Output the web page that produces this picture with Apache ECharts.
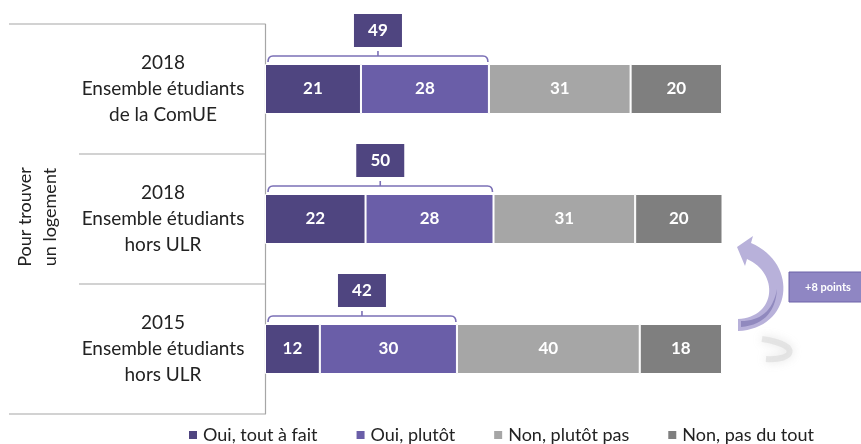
<!DOCTYPE html>
<html>
<head>
<meta charset="utf-8">
<script src="https://cdn.jsdelivr.net/npm/echarts@6/dist/echarts.min.js"></script>
<style>
  html, body { margin: 0; padding: 0; background: #fff; }
  #chart { width: 861px; height: 444px; }
</style>
</head>
<body>
<div id="chart"></div>
<script>
// catégories, de haut en bas
const categories = [
  '2018\nEnsemble étudiants\nde la ComUE',
  '2018\nEnsemble étudiants\nhors ULR',
  '2015\nEnsemble étudiants\nhors ULR'
]
const seriesNames = ['Oui, tout à fait', 'Oui, plutôt', 'Non, plutôt pas', 'Non, pas du tout']
const ouiToutAFait = [21, 22, 12]
const ouiPlutot = [28, 28, 30]
const nonPlutotPas = [31, 31, 40]
const nonPasDuTout = [20, 20, 18]
// total "oui" affiché au-dessus des accolades
const ouiTotal = [49, 50, 42]
const evolutionLabel = '+8 points'
const sideLabel = 'Pour trouver\nun logement'

const colors = ['#4f4580', '#6a5ea8', '#a6a6a6', '#7f7f7f']
const FONT = 'Lato, "Noto Sans", sans-serif'
const BAR_H = 50

const chart = echarts.init(document.getElementById('chart'))

const seriesValues = [ouiToutAFait, ouiPlutot, nonPlutotPas, nonPasDuTout]

const barSeries = seriesValues.map((values, i) => ({
  name: seriesNames[i],
  type: 'bar',
  stack: 'total',
  barWidth: BAR_H,
  data: values,
  itemStyle: { color: colors[i], borderColor: '#fff', borderWidth: 1 },
  label: {
    show: true,
    position: 'inside',
    color: '#fff',
    fontFamily: FONT,
    fontWeight: 'bold',
    fontSize: 17
  },
  emphasis: { disabled: true }
}))

// accolade + boîte du total "oui"
const renderBracket = (params, api) => {
  const total = api.value(0)
  const cat = api.value(1)
  const start = api.coord([0, cat])
  const end = api.coord([total, cat])
  const yb = start[1] - BAR_H / 2 - 8
  const x0 = start[0] + 3
  const x1 = end[0] - 1
  const xm = (x0 + x1) / 2
  return {
    type: 'group',
    children: [
      {
        type: 'path',
        shape: {
          pathData: `M${x0},${yb + 6} Q${x0},${yb} ${x0 + 5},${yb} L${x1 - 5},${yb} Q${x1},${yb} ${x1},${yb + 6} M${xm},${yb} L${xm},${yb - 5}`
        },
        style: { fill: 'none', stroke: '#7b70b6', lineWidth: 1.6 }
      },
      {
        type: 'rect',
        shape: { x: xm - 24, y: yb - 42, width: 48, height: 33 },
        style: { fill: colors[0] }
      },
      {
        type: 'text',
        x: xm,
        y: yb - 25.5,
        style: {
          text: String(total),
          fill: '#fff',
          fontFamily: FONT,
          fontWeight: 'bold',
          fontSize: 17,
          align: 'center',
          verticalAlign: 'middle'
        }
      }
    ]
  }
}

// flèche courbe entre 2015 et 2018 + boîte "+8 points"
const renderArrow = (params, api) => {
  const p2 = api.coord([api.value(0), api.value(1)])
  const p3 = api.coord([api.value(0), api.value(2)])
  const xe = p2[0]
  const y2 = p2[1]
  const y3 = p3[1]
  const mid = (y2 + y3) / 2
  const arrowPath =
    `M${xe + 16},${y3 - 18} C${xe + 70},${y3 - 20} ${xe + 78},${y2 + 45} ${xe + 29},${y2 + 24} ` +
    `L${xe + 31},${y2 + 17} L${xe + 15},${y2 + 28} L${xe + 23},${y2 + 47} L${xe + 25},${y2 + 40} ` +
    `C${xe + 57},${y2 + 54} ${xe + 55},${y3 - 32} ${xe + 16},${y3 - 30} Z`
  const arrowShade =
    `M${xe + 19},${y3 - 22} C${xe + 44},${y3 - 24} ${xe + 54},${y3 - 40} ${xe + 55},${y3 - 60} ` +
    `C${xe + 51},${y3 - 38} ${xe + 38},${y3 - 28} ${xe + 19},${y3 - 28} Z`
  const shadowPath =
    `M${xe + 40},${y3 - 10} C${xe + 80},${y3 - 4} ${xe + 72},${y3 + 12} ${xe + 44},${y3 + 10}`
  return {
    type: 'group',
    children: [
      {
        type: 'path',
        shape: { pathData: shadowPath },
        style: { fill: 'none', stroke: 'rgba(215,215,215,0.55)', lineWidth: 6, shadowBlur: 10, shadowColor: 'rgba(160,160,160,0.5)' }
      },
      { type: 'path', shape: { pathData: arrowPath }, style: { fill: '#b8b1da' } },
      { type: 'path', shape: { pathData: arrowShade }, style: { fill: '#9089be' } },
      {
        type: 'rect',
        shape: { x: xe + 67, y: mid - 12, width: 80, height: 30 },
        style: { fill: '#8f86c3', stroke: '#6c63a8', lineWidth: 1 }
      },
      {
        type: 'text',
        x: xe + 106,
        y: mid + 3,
        style: {
          text: evolutionLabel,
          fill: '#fff',
          fontFamily: FONT,
          fontWeight: 'bold',
          fontSize: 11,
          align: 'center',
          verticalAlign: 'middle'
        }
      }
    ]
  }
}

const option = {
  animation: false,
  grid: { left: 265, right: 139, top: 24, bottom: 30, containLabel: false, outerBoundsMode: 'none' },
  legend: {
    data: seriesNames,
    left: 182,
    top: 421,
    icon: 'rect',
    itemWidth: 10,
    itemHeight: 10,
    itemGap: 37,
    selectedMode: false,
    textStyle: { fontFamily: FONT, fontSize: 18, color: '#222' }
  },
  xAxis: { type: 'value', min: 0, max: 100, show: false },
  yAxis: {
    type: 'category',
    data: categories,
    inverse: true,
    axisLine: { show: true, lineStyle: { color: '#a6a6a6', width: 1.2 } },
    axisTick: { show: false },
    axisLabel: {
      align: 'center',
      margin: 102,
      fontFamily: FONT,
      fontSize: 19,
      lineHeight: 26,
      color: '#222'
    }
  },
  series: [
    ...barSeries,
    {
      type: 'custom',
      renderItem: renderBracket,
      encode: { x: 0, y: 1 },
      data: ouiTotal.map((v, i) => [v, i]),
      z: 5,
      silent: true
    },
    {
      type: 'custom',
      renderItem: renderArrow,
      encode: { x: 0, y: 1 },
      data: [[100, 1, 2]],
      clip: false,
      z: 5,
      silent: true
    }
  ]
}

chart.setOption(option)

// séparateurs à gauche de l'axe et titre vertical
const x0 = chart.convertToPixel({ xAxisIndex: 0 }, 0)
const yc = categories.map((c, i) => chart.convertToPixel({ yAxisIndex: 0 }, i))
const band = yc[1] - yc[0]
const bounds = [yc[0] - band / 2, yc[0] + band / 2, yc[1] + band / 2, yc[2] + band / 2]
const lineStyle = { stroke: '#a6a6a6', lineWidth: 1.2 }

chart.setOption({
  graphic: [
    { type: 'line', shape: { x1: 9, y1: bounds[0], x2: x0, y2: bounds[0] }, style: lineStyle, silent: true },
    { type: 'line', shape: { x1: 79, y1: bounds[1], x2: x0, y2: bounds[1] }, style: lineStyle, silent: true },
    { type: 'line', shape: { x1: 79, y1: bounds[2], x2: x0, y2: bounds[2] }, style: lineStyle, silent: true },
    { type: 'line', shape: { x1: 9, y1: bounds[3], x2: x0, y2: bounds[3] }, style: lineStyle, silent: true },
    {
      type: 'text',
      x: 38,
      y: (bounds[0] + bounds[3]) / 2 - 2,
      rotation: Math.PI / 2,
      style: {
        text: sideLabel,
        fontFamily: FONT,
        fontSize: 18,
        lineHeight: 25,
        fill: '#222',
        align: 'center',
        verticalAlign: 'middle'
      },
      silent: true
    }
  ]
})

window.addEventListener('resize', () => chart.resize())
</script>
</body>
</html>
